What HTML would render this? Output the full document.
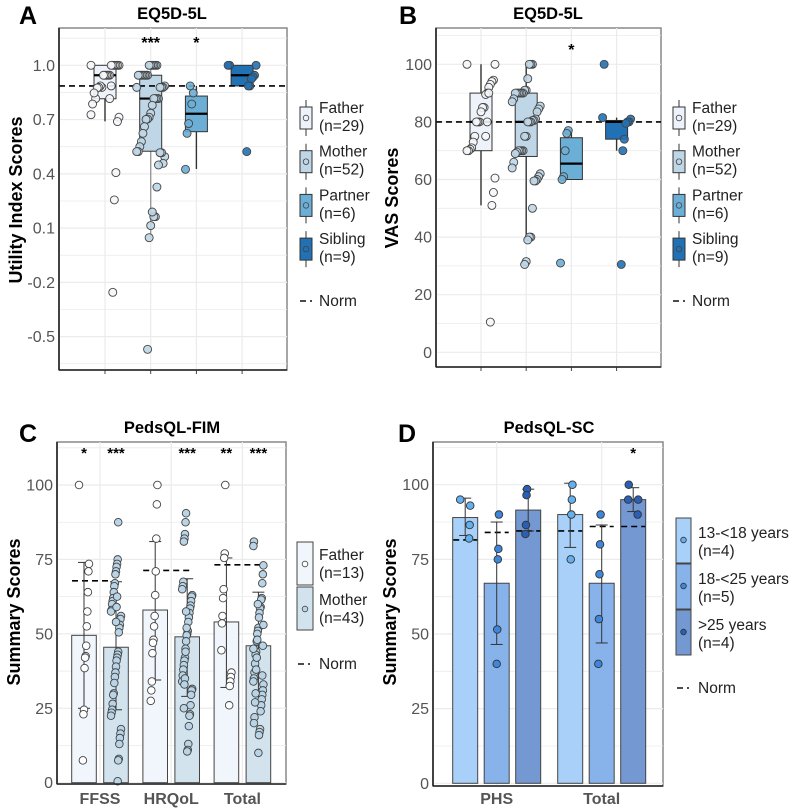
<!DOCTYPE html>
<html><head><meta charset="utf-8"><style>
html,body{margin:0;padding:0;background:#fff;}
svg{display:block;font-family:"Liberation Sans",sans-serif;}
</style></head><body>
<svg id="fig" width="797" height="808" viewBox="0 0 797 808" xmlns="http://www.w3.org/2000/svg"></svg>
<script>
// ---------- Panel A data (Utility index) ----------
const groupsAB = ["Father","Mother","Partner","Sibling"];
const legendN = ["(n=29)","(n=52)","(n=6)","(n=9)"];
const boxA_q1 = [0.815,0.525,0.633,0.886];
const boxA_med = [0.945,0.816,0.732,0.945];
const boxA_q3 = [1.0,0.945,0.83,1.0];
const boxA_lo = [0.69,0.05,0.427,0.886];
const boxA_hi = [1.0,1.0,0.886,1.0];
const ptsA_father = [1,1,1,1,1,1,1,0.945,0.945,0.945,0.945,0.945,0.878,0.886,0.878,0.875,0.816,0.847,0.786,0.727,0.713,0.689,0.407,0.256,-0.255,0.886,0.816];
const ptsA_mother = [1,1,1,1,1,1,0.945,0.945,0.945,0.945,0.945,0.945,0.945,0.878,0.886,0.878,0.878,0.878,0.816,0.816,0.816,0.816,0.779,0.735,0.713,0.703,0.701,0.661,0.624,0.578,0.55,0.523,0.523,0.495,0.458,0.517,0.517,0.449,0.327,0.163,0.163,0.189,0.114,0.047,-0.57];
const ptsA_partner = [0.847,0.786,0.886,0.678,0.624,0.425];
const ptsA_sibling = [1,1,1,0.945,0.935,0.925,0.886,0.886,0.523];
const normA = 0.886;
const ticksA = [1.0,0.7,0.4,0.1,-0.2,-0.5];
const ticksA_lbl = ["1.0","0.7","0.4","0.1","-0.2","-0.5"];
// ---------- Panel B data (VAS) ----------
const boxB_q1 = [70,68,60,74];
const boxB_med = [80,80,65.5,80];
const boxB_q3 = [90,90,74.5,80.5];
const boxB_lo = [51,39,60,70];
const boxB_hi = [100,100,77,81.5];
const ptsB_father = [100,100,94.5,94,93,92,90,89.5,85,85,83.5,80,80,80,75,73,71,70.5,70,70,60.5,55.5,51,10.5,90,80,75];
const ptsB_mother = [100,100,100,95,91,91,90,90,90,90,90,90,88,87,85.5,84.5,83.5,81,80.5,80.5,80,80,80,75,75,70,70,70,70,69.5,69,66,64,62,61,60,59.5,59.5,50,40,40,39,31.5,30.5];
const ptsB_partner = [77,76,70,61,60,31];
const ptsB_sibling = [100,81.5,81,80,80,79.5,74,70,30.5];
const normB = 80;
const ticksB = [0,20,40,60,80,100];
// ---------- Panel C data (PedsQL-FIM) ----------
const catsC = ["FFSS","HRQoL","Total"];
const seriesC = ["Father","Mother"];
const legendNC = ["(n=13)","(n=43)"];
const barsC_father = [49.5,58,54];
const barsC_mother = [45.5,49,46];
const errC_father_lo = [25,34.5,32];
const errC_father_hi = [74,81,75.5];
const errC_mother_lo = [24.5,29,27.5];
const errC_mother_hi = [67.5,68.5,64];
const normC = [67.8,71.3,73.2];
const starsC_father = ["*","","**"];
const starsC_mother = ["***","***","***"];
const ptsC_father = [
 [100,73.5,71,64,57.5,52.5,46,42.5,42,38.5,24.5,23,7.5],
 [100,93.5,82,71,63,56,52.5,48,47,43.5,34,31,27.5],
 [100,77,75.5,65,62,56,53.5,44.5,37,35.5,34,32.5,26]];
const ptsC_mother = [
 [87.5,75,73.5,72.5,71,70,67,66,64,62,61,60,58,57.5,56,55,53,52,50.5,44,43,42,41,39,37,35.5,33.5,30,29.5,26.5,24.5,23.5,22.5,18,16.5,15,13,8,7.5,0.5,62.5,59,54],
 [90.5,87.5,83.5,82,81,67.5,66,65,63,62.5,61,59.5,58.5,57,55.5,54,51,50,49.5,47.5,45,42,41,39.5,38,36,34,31.5,31,29.5,26,23,22.5,19,13,11,10.5,52,57.5,44,35,33,25],
 [81,79.5,73,70,67,62,61.5,59,58.5,57,55.5,52,51,50,47.5,44,43,40,37,35,34,33,31,29.5,28,26,24,18,17,16,10,60,48,42,38,30,27,22,20,45,53,46,36]];
const ticksC = [0,25,50,75,100];
// ---------- Panel D data (PedsQL-SC) ----------
const catsD = ["PHS","Total"];
const seriesD = ["13-<18 years","18-<25 years",">25 years"];
const legendND = ["(n=4)","(n=5)","(n=4)"];
const barsD = [[89,90],[67,67],[91.5,95]];
const errD_lo = [[83,79],[46.5,47],[84.5,91]];
const errD_hi = [[95.5,100.5],[87.5,86.5],[98.5,99]];
const normD = [[81.5,84.5],[84,86],[84.5,86]];
const ptsD = [
 [[95,93,86.5,82],[100,95,90,75]],
 [[90,78.5,75,51.5,40],[90,80,70,55,40]],
 [[98.5,96.5,86.5,83.5],[100,95,95,90]]];
const starsD = [["",""],["",""],["","*"]];

const NS="http://www.w3.org/2000/svg";
const svg=document.getElementById('fig');
function add(tag,attrs,name,parent){
  const el=document.createElementNS(NS,tag);
  for(const k in attrs) el.setAttribute(k,attrs[k]);
  
  
  (parent||svg).appendChild(el);
  return el;
}
function txt(x,y,s,attrs,name,parent){
  const el=add('text',Object.assign({x:x,y:y},attrs),name,parent);
  el.textContent=s; return el;
}
function jit(i,k){ return (((i*37+k*13)%19)/18-0.5); }

const xA=i=>105+i*45.7, yA=v=>65.3+(1-v)*180.9;
const xB=i=>481+i*45.2, yB=v=>352.3-v*2.88;
const xC=i=>100+i*71.2, yC=v=>782.7-v*2.977;
const xD=i=>496.7+i*105, yD=v=>783.3-v*2.986;

function frame(x0,y0,x1,y1,name){
  const g=add('g',{},name);
  add('rect',{x:x0,y:y0,width:x1-x0,height:y1-y0,fill:'#fff',stroke:'#888','stroke-width':1.5},'plot-background',g);
  return g;
}
function spines(x0,y0,x1,y1,g){
  add('line',{x1:x0,y1:y0,x2:x0,y2:y1,stroke:'#222','stroke-width':1.6},'y-axis-line',g);
  add('line',{x1:x0,y1:y1,x2:x1,y2:y1,stroke:'#222','stroke-width':1.6},'x-axis-line',g);
}
function hgrid(g,x0,x1,ys,w){ ys.forEach(y=>add('line',{x1:x0,y1:y,x2:x1,y2:y,stroke:'#ebebeb','stroke-width':w},'grid-line',g)); }
function vgrid(g,y0,y1,xs){ xs.forEach(x=>add('line',{x1:x,y1:y0,x2:x,y2:y1,stroke:'#ebebeb','stroke-width':1.2},'grid-line',g)); }

const colAB=['#eef3fb','#bfd6e6','#6baed6','#2171b5'];
const colC=['#f1f6fc','#d2e3ee'];
const ptC=['#ffffff','#b8d4e6'];
const colD=['#a9d0f8','#87b3ea','#7398d2'];
const ptD=['#64b0ee','#3d86db','#2b5fb3'];
const FS=16, LFS=15.5;

txt(19,24,"A",{'font-size':25,'font-weight':'bold'},'panel-label-a');
txt(399,24,"B",{'font-size':25,'font-weight':'bold'},'panel-label-b');
txt(19,442,"C",{'font-size':25,'font-weight':'bold'},'panel-label-c');
txt(398,442,"D",{'font-size':25,'font-weight':'bold'},'panel-label-d');
txt(172,19,"EQ5D-5L",{'font-size':16.5,'font-weight':'bold','text-anchor':'middle'},'title-a');
txt(548,19,"EQ5D-5L",{'font-size':16.5,'font-weight':'bold','text-anchor':'middle'},'title-b');
txt(172,433,"PedsQL-FIM",{'font-size':16.5,'font-weight':'bold','text-anchor':'middle'},'title-c');
txt(549,433,"PedsQL-SC",{'font-size':16.5,'font-weight':'bold','text-anchor':'middle'},'title-d');
txt(0,0,"Utility Index Scores",{'font-size':18,'font-weight':'bold','text-anchor':'middle',transform:'translate(22,200) rotate(-90)'},'y-axis-title-a');
txt(0,0,"VAS Scores",{'font-size':18,'font-weight':'bold','text-anchor':'middle',transform:'translate(398,198) rotate(-90)'},'y-axis-title-b');
txt(0,0,"Summary Scores",{'font-size':18,'font-weight':'bold','text-anchor':'middle',transform:'translate(20,612) rotate(-90)'},'y-axis-title-c');
txt(0,0,"Summary Scores",{'font-size':18,'font-weight':'bold','text-anchor':'middle',transform:'translate(396,612) rotate(-90)'},'y-axis-title-d');

function boxPanel(opt){
  const g=frame(opt.x0,opt.y0,opt.x1,opt.y1,opt.name);
  const minor=[];
  for(let i=0;i<opt.ticks.length-1;i++) minor.push((opt.y(opt.ticks[i])+opt.y(opt.ticks[i+1]))/2);
  const step=opt.y(opt.ticks[1])-opt.y(opt.ticks[0]);
  minor.push(opt.y(opt.ticks[0])-step/2);
  minor.push(opt.y(opt.ticks[opt.ticks.length-1])+step/2);
  hgrid(g,opt.x0,opt.x1,minor.filter(y=>y>opt.y0+2&&y<opt.y1-2),0.8);
  hgrid(g,opt.x0,opt.x1,opt.ticks.map(opt.y),1.2);
  vgrid(g,opt.y0,opt.y1,groupsAB.map((_,i)=>opt.x(i)));
  opt.ticks.forEach((t,i)=>{
    txt(opt.x0-4,opt.y(t)+5.5,opt.labels[i],{'font-size':FS,fill:'#555','text-anchor':'end'},'y-tick-label',g);
  });
  groupsAB.forEach((gname,i)=>{
    const cx=opt.x(i), w=11;
    add('line',{x1:cx,y1:opt.y1,x2:cx,y2:opt.y1+4,stroke:'#444','stroke-width':1},'x-tick',g);
    add('line',{x1:cx,y1:opt.y(opt.lo[i]),x2:cx,y2:opt.y(opt.hi[i]),stroke:i==1&&opt.grayWhisk?'#999':'#333','stroke-width':1.4},'whisker-'+gname.toLowerCase(),g);
    add('rect',{x:cx-w,y:opt.y(opt.q3[i]),width:2*w,height:opt.y(opt.q1[i])-opt.y(opt.q3[i]),fill:colAB[i],stroke:'#333','stroke-width':1},'box-'+gname.toLowerCase(),g);
    add('line',{x1:cx-w,y1:opt.y(opt.med[i]),x2:cx+w,y2:opt.y(opt.med[i]),stroke:'#000','stroke-width':2.2},'median-'+gname.toLowerCase(),g);
  });
  add('line',{x1:opt.x0,y1:opt.y(opt.norm),x2:opt.x1,y2:opt.y(opt.norm),stroke:'#000','stroke-width':1.6,'stroke-dasharray':'6,4'},'norm-line',g);
  opt.pts.forEach((arr,i)=>{
    arr.forEach((v,k)=>{
      add('circle',{cx:opt.x(i)+jit(k,i)*28,cy:opt.y(v),r:4,fill:colAB[i]==='#eef3fb'?'#f4f6fa':colAB[i],stroke:'#444','stroke-width':0.9,'fill-opacity':0.9},'point-'+groupsAB[i].toLowerCase(),g);
    });
  });
  opt.stars.forEach((s,i)=>{ if(s) txt(opt.x(i),opt.starY,s,{'font-size':16,'font-weight':'bold','text-anchor':'middle'},'significance-marker',g); });
  spines(opt.x0,opt.y0,opt.x1,opt.y1,g);
  const lg=add('g',{},'legend');
  groupsAB.forEach((gname,i)=>{
    const y=opt.ly+i*43.7;
    add('line',{x1:opt.lx+6,y1:y-7,x2:opt.lx+6,y2:y+29,stroke:'#333','stroke-width':1},'legend-whisker',lg);
    add('rect',{x:opt.lx,y:y,width:12,height:22,fill:colAB[i],stroke:'#333','stroke-width':1},'legend-key-'+gname.toLowerCase(),lg);
    add('circle',{cx:opt.lx+6,cy:y+11,r:2.8,fill:colAB[i],stroke:'#444','stroke-width':0.8},'legend-point',lg);
    txt(opt.lx+19,y+6,gname,{'font-size':LFS,fill:'#222'},'legend-label',lg);
    txt(opt.lx+19,y+24,legendN[i],{'font-size':LFS,fill:'#222'},'legend-n',lg);
  });
  add('line',{x1:opt.lx,y1:opt.ly+194,x2:opt.lx+6,y2:opt.ly+194,stroke:'#000','stroke-width':1.4},'legend-norm-dash',lg);
  add('line',{x1:opt.lx+10,y1:opt.ly+194,x2:opt.lx+12,y2:opt.ly+194,stroke:'#000','stroke-width':1.4},'legend-norm-dash',lg);
  txt(opt.lx+19,opt.ly+199,"Norm",{'font-size':LFS,fill:'#222'},'legend-norm-label',lg);
}
boxPanel({name:'panel-a',x0:59,y0:28,x1:287,y1:370,x:xA,y:yA,ticks:ticksA,labels:ticksA_lbl,
  q1:boxA_q1,med:boxA_med,q3:boxA_q3,lo:boxA_lo,hi:boxA_hi,norm:normA,grayWhisk:true,
  pts:[ptsA_father,ptsA_mother,ptsA_partner,ptsA_sibling],stars:["","***","*",""],starY:48,lx:300,ly:107});
boxPanel({name:'panel-b',x0:436,y0:28,x1:661,y1:367,x:xB,y:yB,ticks:ticksB,labels:ticksB.map(String),
  q1:boxB_q1,med:boxB_med,q3:boxB_q3,lo:boxB_lo,hi:boxB_hi,norm:normB,grayWhisk:false,
  pts:[ptsB_father,ptsB_mother,ptsB_partner,ptsB_sibling],stars:["","","*",""],starY:55,lx:673,ly:107});

(function(){
  const x0=57,y0=442,x1=286,y1=784;
  const g=frame(x0,y0,x1,y1,'panel-c');
  const minor=[12.5,37.5,62.5,87.5,112.5].map(yC);
  hgrid(g,x0,x1,minor,0.8); hgrid(g,x0,x1,ticksC.map(yC),1.2);
  vgrid(g,y0,y1,catsC.map((_,i)=>xC(i)));
  ticksC.forEach(t=>txt(x0-4,yC(t)+5.5,String(t),{'font-size':FS,fill:'#555','text-anchor':'end'},'y-tick-label',g));
  const bars=[barsC_father,barsC_mother], lo=[errC_father_lo,errC_mother_lo], hi=[errC_father_hi,errC_mother_hi];
  const pts=[ptsC_father,ptsC_mother], stars=[starsC_father,starsC_mother];
  catsC.forEach((c,i)=>{
    [0,1].forEach(s=>{
      const cx=xC(i)+(s?16:-16);
      add('rect',{x:cx-12.3,y:yC(bars[s][i]),width:24.6,height:yC(0)-yC(bars[s][i]),fill:colC[s],stroke:'#444','stroke-width':1},'bar-'+seriesC[s].toLowerCase()+'-'+c.toLowerCase(),g);
    });
    add('line',{x1:xC(i)-28,y1:yC(normC[i]),x2:xC(i)+22,y2:yC(normC[i]),stroke:'#000','stroke-width':1.6,'stroke-dasharray':'6,4'},'norm-line-'+c.toLowerCase(),g);
    [0,1].forEach(s=>{
      const cx=xC(i)+(s?16:-16);
      add('line',{x1:cx,y1:yC(lo[s][i]),x2:cx,y2:yC(hi[s][i]),stroke:'#333','stroke-width':1},'error-bar',g);
      add('line',{x1:cx-6,y1:yC(lo[s][i]),x2:cx+6,y2:yC(lo[s][i]),stroke:'#333','stroke-width':1},'error-cap',g);
      add('line',{x1:cx-6,y1:yC(hi[s][i]),x2:cx+6,y2:yC(hi[s][i]),stroke:'#333','stroke-width':1},'error-cap',g);
      pts[s][i].forEach((v,k)=>add('circle',{cx:cx+jit(k,i+s)*10,cy:yC(v),r:3.8,fill:ptC[s],stroke:'#444','stroke-width':0.9},'point-'+seriesC[s].toLowerCase(),g));
      if(stars[s][i]) txt(cx,458,stars[s][i],{'font-size':15,'font-weight':'bold','text-anchor':'middle'},'significance-marker',g);
    });
    txt(xC(i),804,c,{'font-size':16,'font-weight':'bold',fill:'#555','text-anchor':'middle'},'x-tick-label',g);
  });
  spines(x0,y0,x1,y1,g);
  const lg=add('g',{},'legend-c');
  seriesC.forEach((s,i)=>{
    const y=542+i*45;
    add('rect',{x:297,y:y,width:16,height:43,fill:colC[i],stroke:'#444','stroke-width':1},'legend-key-'+s.toLowerCase(),lg);
    add('circle',{cx:305,cy:y+22,r:2.8,fill:ptC[i],stroke:'#444','stroke-width':0.8},'legend-point',lg);
    txt(319,y+18,s,{'font-size':LFS,fill:'#222'},'legend-label',lg);
    txt(319,y+36,legendNC[i],{'font-size':LFS,fill:'#222'},'legend-n',lg);
  });
  add('line',{x1:298,y1:664,x2:304,y2:664,stroke:'#000','stroke-width':1.4},'legend-norm-dash',lg);
  add('line',{x1:308,y1:664,x2:310,y2:664,stroke:'#000','stroke-width':1.4},'legend-norm-dash',lg);
  txt(319,669,"Norm",{'font-size':LFS,fill:'#222'},'legend-norm-label',lg);
})();

(function(){
  const x0=433,y0=442,x1=663,y1=786;
  const g=frame(x0,y0,x1,y1,'panel-d');
  const minor=[12.5,37.5,62.5,87.5,112.5].map(yD);
  hgrid(g,x0,x1,minor,0.8); hgrid(g,x0,x1,ticksC.map(yD),1.2);
  vgrid(g,y0,y1,catsD.map((_,i)=>xD(i)));
  ticksC.forEach(t=>txt(x0-4,yD(t)+5.5,String(t),{'font-size':FS,fill:'#555','text-anchor':'end'},'y-tick-label',g));
  catsD.forEach((c,i)=>{
    seriesD.forEach((s,j)=>{
      const cx=xD(i)+(j-1)*31.5;
      add('rect',{x:cx-12.5,y:yD(barsD[j][i]),width:25,height:yD(0)-yD(barsD[j][i]),fill:colD[j],stroke:'#444','stroke-width':1},'bar-'+c.toLowerCase()+'-'+j,g);
      add('line',{x1:cx-12,y1:yD(normD[j][i]),x2:cx+12,y2:yD(normD[j][i]),stroke:'#000','stroke-width':1.6,'stroke-dasharray':'6,4'},'norm-line',g);
      add('line',{x1:cx,y1:yD(errD_lo[j][i]),x2:cx,y2:yD(errD_hi[j][i]),stroke:'#333','stroke-width':1},'error-bar',g);
      add('line',{x1:cx-6,y1:yD(errD_lo[j][i]),x2:cx+6,y2:yD(errD_lo[j][i]),stroke:'#333','stroke-width':1},'error-cap',g);
      add('line',{x1:cx-6,y1:yD(errD_hi[j][i]),x2:cx+6,y2:yD(errD_hi[j][i]),stroke:'#333','stroke-width':1},'error-cap',g);
      ptsD[j][i].forEach((v,k)=>add('circle',{cx:cx+jit(k,j+i)*10,cy:yD(v),r:3.8,fill:ptD[j],stroke:'#333','stroke-width':0.9},'point-'+j,g));
      if(starsD[j][i]) txt(cx,458,starsD[j][i],{'font-size':15,'font-weight':'bold','text-anchor':'middle'},'significance-marker',g);
    });
    txt(xD(i),804,c,{'font-size':16,'font-weight':'bold',fill:'#555','text-anchor':'middle'},'x-tick-label',g);
  });
  spines(x0,y0,x1,y1,g);
  const lg=add('g',{},'legend-d');
  seriesD.forEach((s,i)=>{
    const y=518+i*46;
    add('rect',{x:676,y:y,width:15,height:45,fill:colD[i],stroke:'#444','stroke-width':1},'legend-key',lg);
    add('circle',{cx:683.5,cy:y+22,r:2.8,fill:ptD[i],stroke:'#333','stroke-width':0.8},'legend-point',lg);
    txt(698,y+20,s,{'font-size':LFS,fill:'#222'},'legend-label',lg);
    txt(698,y+38,legendND[i],{'font-size':LFS,fill:'#222'},'legend-n',lg);
  });
  add('line',{x1:677,y1:688,x2:683,y2:688,stroke:'#000','stroke-width':1.4},'legend-norm-dash',lg);
  add('line',{x1:687,y1:688,x2:689,y2:688,stroke:'#000','stroke-width':1.4},'legend-norm-dash',lg);
  txt(698,693,"Norm",{'font-size':LFS,fill:'#222'},'legend-norm-label',lg);
})();
</script>
</body></html>
